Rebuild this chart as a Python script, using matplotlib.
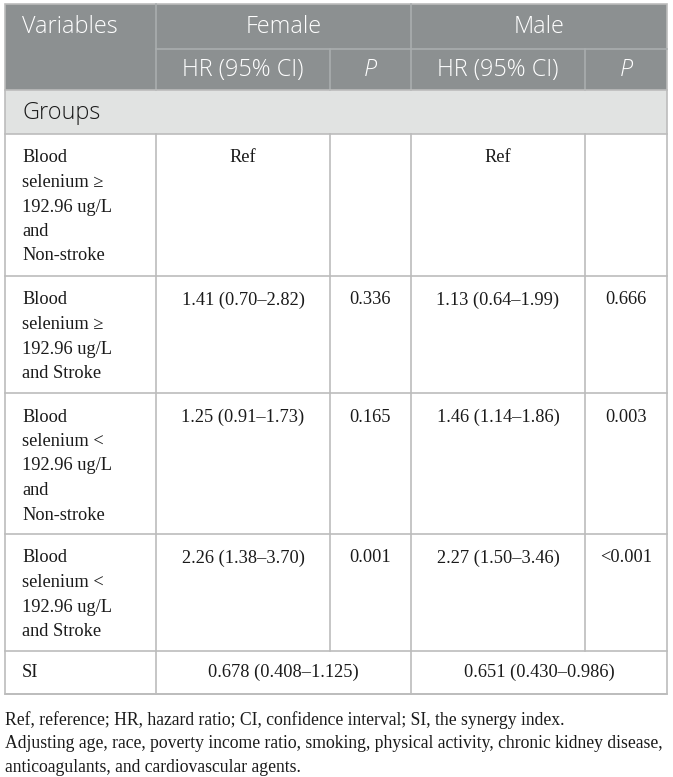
import matplotlib
matplotlib.use("Agg")
import matplotlib.pyplot as plt
from matplotlib.patches import Rectangle

# ---- data ----
col_headers = ["Variables", "Female", "Male"]
sub_headers = ["HR (95% CI)", "P", "HR (95% CI)", "P"]
section_label = "Groups"
row_labels = [
    ["Blood", "selenium \u2265", "192.96 ug/L", "and", "Non-stroke"],
    ["Blood", "selenium \u2265", "192.96 ug/L", "and Stroke"],
    ["Blood", "selenium <", "192.96 ug/L", "and", "Non-stroke"],
    ["Blood", "selenium <", "192.96 ug/L", "and Stroke"],
]
female_hr = ["Ref", "1.41 (0.70\u20132.82)", "1.25 (0.91\u20131.73)", "2.26 (1.38\u20133.70)"]
female_p = ["", "0.336", "0.165", "0.001"]
male_hr = ["Ref", "1.13 (0.64\u20131.99)", "1.46 (1.14\u20131.86)", "2.27 (1.50\u20133.46)"]
male_p = ["", "0.666", "0.003", "<0.001"]
si_label = "SI"
si_female = "0.678 (0.408\u20131.125)"
si_male = "0.651 (0.430\u20130.986)"
footnotes = [
    "Ref, reference; HR, hazard ratio; CI, confidence interval; SI, the synergy index.",
    "Adjusting age, race, poverty income ratio, smoking, physical activity, chronic kidney disease,",
    "anticoagulants, and cardiovascular agents.",
]

# ---- layout (pixels) ----
W, H = 673, 777
xs = [5, 156, 330, 411, 585, 667]
ys_head = [4, 49, 90]
y_group = (90, 134)
body_rows = [134, 276, 393, 534, 651]
y_si = (651, 694)

HEAD_BG = "#8c9091"
HEAD_LINE = "#a9adae"
GROUP_BG = "#e1e3e2"
GRID = "#bcbcbc"
TXT = "#1a1a1a"

serif = ["Liberation Serif", "DejaVu Serif"]
sans = ["Open Sans", "DejaVu Sans"]
BODY_FS = 13.2
HEAD_FS = 16.8
FOOT_FS = 12.7

fig = plt.figure(figsize=(W / 100, H / 100), dpi=100)
ax = fig.add_axes([0, 0, 1, 1])
ax.set_xlim(0, W)
ax.set_ylim(H, 0)
ax.axis("off")

# header background
ax.add_patch(Rectangle((xs[0], ys_head[0]), xs[-1] - xs[0], ys_head[2] - ys_head[0],
                       facecolor=HEAD_BG, edgecolor="none"))
ax.add_patch(Rectangle((xs[0], y_group[0]), xs[-1] - xs[0], y_group[1] - y_group[0],
                       facecolor=GROUP_BG, edgecolor="none"))

# header lines
ax.plot([xs[1], xs[1]], [ys_head[0], ys_head[2]], color=HEAD_LINE, lw=1.2)
ax.plot([xs[3], xs[3]], [ys_head[0], ys_head[2]], color=HEAD_LINE, lw=1.2)
for xv in (xs[2], xs[4]):
    ax.plot([xv, xv], [ys_head[1], ys_head[2]], color=HEAD_LINE, lw=1.2)
ax.plot([xs[1], xs[-1]], [ys_head[1], ys_head[1]], color=HEAD_LINE, lw=1.2)

# body grid lines
ax.plot([xs[0], xs[-1]], [y_group[0], y_group[0]], color=GRID, lw=1.2)
for yv in body_rows + [y_si[1]]:
    ax.plot([xs[0], xs[-1]], [yv, yv], color=GRID, lw=1.2)
for xv in (xs[1], xs[3]):
    ax.plot([xv, xv], [body_rows[0], y_si[1]], color=GRID, lw=1.2)
for xv in (xs[2], xs[4]):
    ax.plot([xv, xv], [body_rows[0], body_rows[-1]], color=GRID, lw=1.2)
# outer border
ax.add_patch(Rectangle((xs[0], ys_head[0]), xs[-1] - xs[0], y_si[1] - ys_head[0],
                       facecolor="none", edgecolor=GRID, lw=1.2))

# header text
hkw = dict(family=sans, fontsize=HEAD_FS, color="white", va="center", fontweight="light")
ax.text(22, 27, col_headers[0], ha="left", **hkw)
ax.text((xs[1] + xs[3]) / 2, 27, col_headers[1], ha="center", **hkw)
ax.text((xs[3] + xs[5]) / 2, 27, col_headers[2], ha="center", **hkw)
for i, s in enumerate(sub_headers):
    cx = (xs[i + 1] + xs[i + 2]) / 2
    style = "italic" if s == "P" else "normal"
    ax.text(cx, 70, s, ha="center", style=style, **hkw)
ax.text(22, 113, section_label, family=sans, fontsize=HEAD_FS, color=TXT, va="center",
        ha="left", fontweight="light")

# body
LINE = 24.5
bkw = dict(family=serif, fontsize=BODY_FS, color=TXT, va="center")
for r in range(len(row_labels)):
    top = body_rows[r]
    y0 = top + 24
    for j, line in enumerate(row_labels[r]):
        ax.text(22, y0 + j * LINE, line, ha="left", **bkw)
    ax.text((xs[1] + xs[2]) / 2, y0, female_hr[r], ha="center", **bkw)
    ax.text((xs[2] + xs[3]) / 2, y0, female_p[r], ha="center", **bkw)
    ax.text((xs[3] + xs[4]) / 2, y0, male_hr[r], ha="center", **bkw)
    ax.text((xs[4] + xs[5]) / 2, y0, male_p[r], ha="center", **bkw)

ysi = (y_si[0] + y_si[1]) / 2
ax.text(22, ysi, si_label, ha="left", **bkw)
ax.text((xs[1] + xs[3]) / 2, ysi, si_female, ha="center", **bkw)
ax.text((xs[3] + xs[5]) / 2, ysi, si_male, ha="center", **bkw)

for i, s in enumerate(footnotes):
    ax.text(5, 720.5 + i * 23.5, s, family=serif, fontsize=FOOT_FS, color=TXT, va="center", ha="left")

fig.savefig("out.png", dpi=100, facecolor="white")
